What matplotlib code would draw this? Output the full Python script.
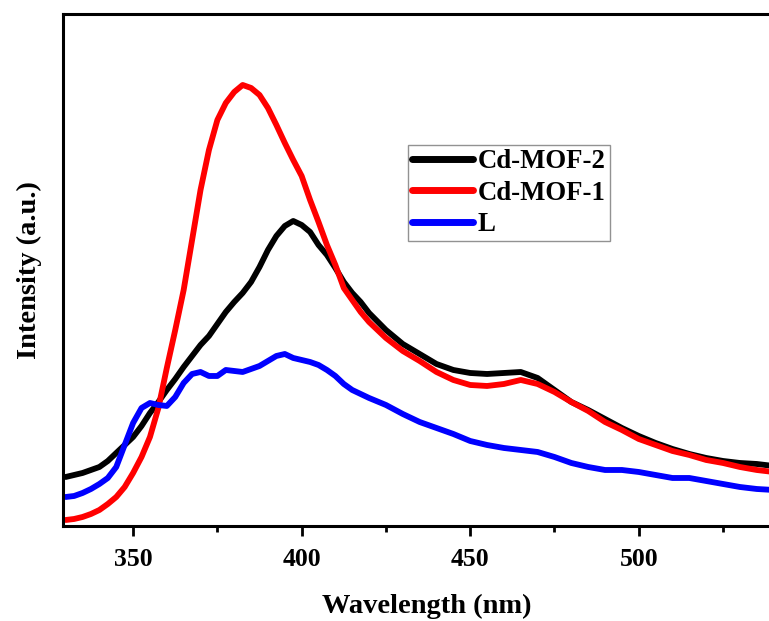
import matplotlib
matplotlib.use("Agg")
import matplotlib.pyplot as plt
from matplotlib.ticker import MultipleLocator, NullLocator

plt.rcParams['font.family'] = 'Liberation Serif'
plt.rcParams['font.weight'] = 'bold'

# Emission spectra (excitation fixed), intensity in arbitrary units
wavelength = [330, 332.5, 335, 337.5, 340, 342.5, 345, 347.5, 350, 352.5,
              355, 357.5, 360, 362.5, 365, 367.5, 370, 372.5, 375, 377.5,
              380, 382.5, 385, 387.5, 390, 392.5, 395, 397.5, 400, 402.5,
              405, 407.5, 410, 412.5, 415, 417.5, 420,
              425, 430, 435, 440, 445, 450, 455, 460, 465, 470, 475, 480,
              485, 490, 495, 500, 505, 510, 515, 520, 525, 530, 535, 540]

cd_mof_2 = [49, 51, 53, 56, 59, 65, 73, 81, 89, 100,
            113, 124, 136, 147, 159, 170, 181, 190, 202, 214,
            224, 233, 244, 259, 276, 290, 300, 305, 301, 294,
            281, 271, 258, 244, 233, 224, 213,
            196, 182, 172, 162, 156, 153, 152, 153, 154, 148, 136, 124,
            116, 107, 98, 90, 83, 77, 72, 68, 65, 63, 62, 60]

cd_mof_1 = [6, 7, 9, 12, 16, 22, 29, 39, 53, 69,
            89, 118, 158, 196, 236, 286, 336, 376, 406, 423,
            434, 441, 438, 431, 418, 401, 383, 366, 350, 326,
            304, 281, 261, 238, 226, 214, 204,
            188, 175, 165, 154, 146, 141, 140, 142, 146, 142, 134, 124,
            115, 104, 96, 87, 81, 75, 71, 66, 63, 59, 56, 54]

ligand = [29, 30, 33, 37, 42, 48, 59, 81, 103, 118,
          123, 121, 120, 129, 143, 152, 154, 150, 150, 156,
          155, 154, 157, 160, 165, 170, 172, 168, 166, 164,
          161, 156, 150, 142, 136, 132, 128,
          121, 112, 104, 98, 92, 85, 81, 78, 76, 74, 69, 63,
          59, 56, 56, 54, 51, 48, 48, 45, 42, 39, 37, 36]

series = [("Cd-MOF-2", cd_mof_2, "black"),
          ("Cd-MOF-1", cd_mof_1, "#ff0000"),
          ("L", ligand, "#0000ff")]

fig = plt.figure(figsize=(7.69, 6.21), dpi=100)
# the frame runs past the right edge of the figure
ax = fig.add_axes([0.0819, 0.153, 0.946, 0.8237])

for label, values, color in series:
    ax.plot(wavelength, values, color=color, lw=4.2, label=label,
            solid_joinstyle='round', solid_capstyle='round')

ax.set_xlim(329.2, 545)
ax.set_ylim(0, 511.5)

ax.xaxis.set_major_locator(MultipleLocator(50))
ax.xaxis.set_minor_locator(MultipleLocator(25))
ax.yaxis.set_major_locator(NullLocator())
ax.tick_params(axis='x', which='major', direction='out', length=7, width=2,
               labelsize=18.5, pad=9)
ax.tick_params(axis='x', which='minor', direction='out', length=4, width=2)
ax.tick_params(top=False, right=False)
for lbl in ax.get_xticklabels():
    lbl.set_fontweight('bold')

for side in ax.spines.values():
    side.set_linewidth(2.2)

ax.set_xlabel("Wavelength (nm)", fontsize=20.5, fontweight='bold', labelpad=16)
ax.set_ylabel("Intensity (a.u.)", fontsize=20.5, fontweight='bold', labelpad=15)

leg = ax.legend(loc='upper left', bbox_to_anchor=(408 / 769, 1 - 145 / 621),
                bbox_transform=fig.transFigure, fontsize=19.3, frameon=True,
                fancybox=False, handlelength=2.25, handletextpad=0.2,
                labelspacing=0.24, borderpad=0.16, borderaxespad=0)
leg.get_frame().set_edgecolor('#777777')
leg.get_frame().set_linewidth(1.0)
for t in leg.get_texts():
    t.set_fontweight('bold')
for h in leg.get_lines():
    h.set_linewidth(5)

fig.savefig("out.png", dpi=100)
